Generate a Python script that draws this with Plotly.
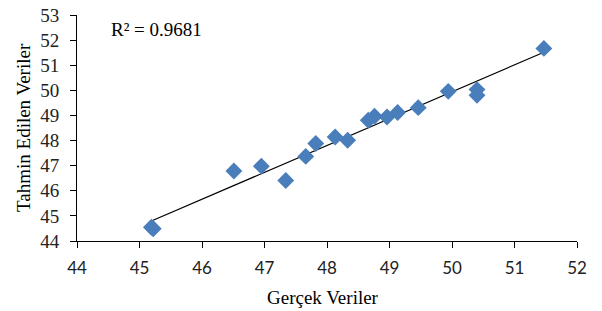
import numpy as np
import plotly.graph_objects as go

gercek = [45.19, 45.22, 46.51, 46.95, 47.34, 47.66, 47.82, 48.13, 48.33, 48.66, 48.76,
          48.96, 49.13, 49.46, 49.94, 50.40, 50.40, 51.47]
tahmin = [44.55, 44.49, 46.79, 46.98, 46.41, 47.37, 47.88, 48.14, 48.01, 48.81, 48.97,
          48.94, 49.12, 49.31, 49.96, 50.03, 49.80, 51.67]
x_ticks = [44, 45, 46, 47, 48, 49, 50, 51, 52]
y_ticks = [44, 45, 46, 47, 48, 49, 50, 51, 52, 53]
x_title = "Gerçek Veriler"
y_title = "Tahmin Edilen Veriler"
r2_label = "R² = 0.9681"

xa = np.array(gercek)
ya = np.array(tahmin)
slope, intercept = np.polyfit(xa, ya, 1)
tx = np.array([xa.min(), xa.max()])
ty = slope * tx + intercept

serif = "Liberation Serif, Times New Roman, serif"
sans = "Lato, Carlito, Calibri, sans-serif"

fig = go.Figure()
fig.add_trace(go.Scatter(x=tx, y=ty, mode="lines",
                         line=dict(color="black", width=1.2), showlegend=False,
                         hoverinfo="skip"))
fig.add_trace(go.Scatter(x=gercek, y=tahmin, mode="markers",
                         marker=dict(symbol="diamond", size=13, color="#4A7EBB",
                                     line=dict(width=0)),
                         showlegend=False))

fig.add_annotation(x=0.063, y=0.935, xref="paper", yref="paper", text=r2_label,
                   showarrow=False, xanchor="left", yanchor="middle",
                   font=dict(family=serif, size=19, color="black"))
fig.add_annotation(x=0.492, y=-0.252, xref="paper", yref="paper", text=x_title,
                   showarrow=False, xanchor="center", yanchor="middle",
                   font=dict(family=serif, size=19, color="black"))
fig.add_annotation(x=-0.108, y=0.5, xref="paper", yref="paper", text=y_title,
                   textangle=-90, showarrow=False, xanchor="center", yanchor="middle",
                   font=dict(family=serif, size=19, color="black"))

fig.update_layout(
    width=602, height=311,
    margin=dict(l=77, r=25, t=15, b=70),
    paper_bgcolor="white", plot_bgcolor="white",
    font=dict(family=serif, size=19, color="black"),
    xaxis=dict(range=[44, 52], tickvals=x_ticks, showgrid=False, zeroline=False,
               showline=True, linecolor="black", linewidth=1,
               ticks="outside", ticklen=6, tickcolor="black", automargin=False,
               ticklabelstandoff=6, ticklabeloverflow="allow",
               tickfont=dict(family=sans, size=17, color="#222")),
    yaxis=dict(range=[44, 53], tickvals=y_ticks, showgrid=False, zeroline=False,
               showline=True, linecolor="black", linewidth=1,
               ticks="outside", ticklen=6, tickcolor="black", automargin=False,
               ticklabelstandoff=7, ticklabeloverflow="allow",
               tickfont=dict(family=serif, size=19, color="#222")),
)

fig.write_html("out.html", post_script="document.body.style.margin='0';",
               config={"displayModeBar": False})
